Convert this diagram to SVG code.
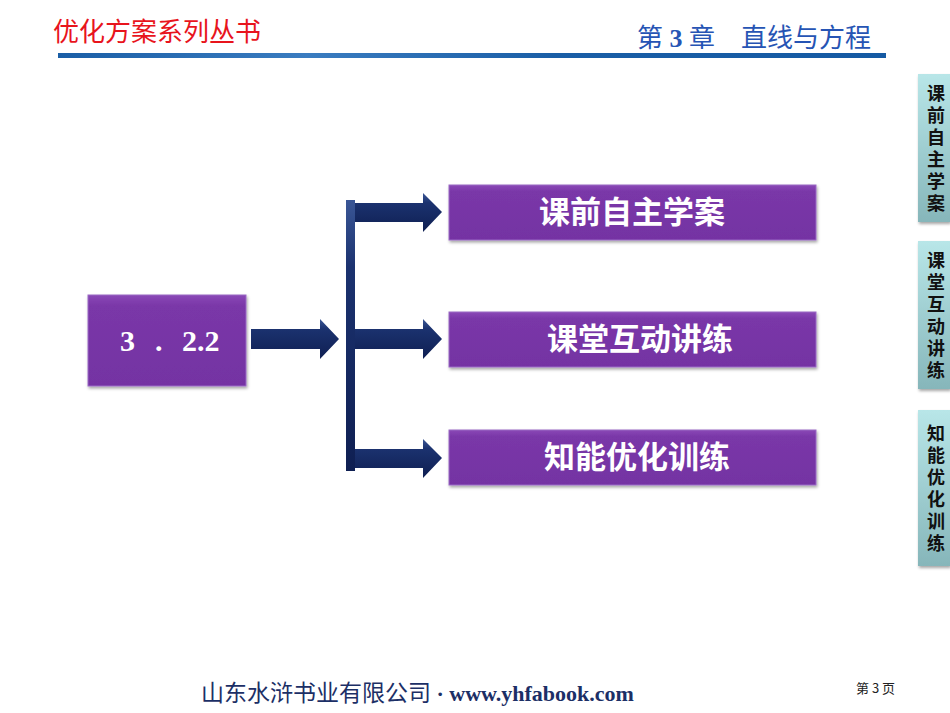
<svg xmlns="http://www.w3.org/2000/svg" width="950" height="713" viewBox="0 0 950 713">
<defs>
<linearGradient id="hdr" x1="0" y1="0" x2="1" y2="0">
<stop offset="0" stop-color="#1a5ea6"/><stop offset="0.3" stop-color="#3a7cc0"/><stop offset="0.6" stop-color="#1a5ea6"/><stop offset="1" stop-color="#155aa3"/>
</linearGradient>
<linearGradient id="tab" x1="0" y1="0" x2="0" y2="1">
<stop offset="0" stop-color="#b8e6e8"/><stop offset="1" stop-color="#86b6ba"/>
</linearGradient>
<linearGradient id="box" x1="0" y1="0" x2="0" y2="1">
<stop offset="0" stop-color="#8a48b6"/><stop offset="0.12" stop-color="#7a37a8"/><stop offset="1" stop-color="#7433a3"/>
</linearGradient>
<linearGradient id="arr" x1="0" y1="0" x2="0" y2="1">
<stop offset="0" stop-color="#3a5696"/><stop offset="0.25" stop-color="#1b326f"/><stop offset="1" stop-color="#0f1f52"/>
</linearGradient>
<filter id="sh" x="-5%" y="-10%" width="115%" height="130%">
<feDropShadow dx="1" dy="2" stdDeviation="1.5" flood-color="#000" flood-opacity="0.35"/>
</filter>
</defs>
<style>
.box{fill:url(#box);stroke:#9a6ac4;stroke-width:1;filter:url(#sh)}
.bt{font-family:"Noto Sans CJK SC","Noto Sans",sans-serif;font-weight:bold;font-size:31px;fill:#fff;text-anchor:middle}
.tab{fill:url(#tab);filter:url(#sh)}
.tt{font-family:"Noto Sans CJK SC",sans-serif;font-weight:bold;font-size:18px;fill:#111;writing-mode:vertical-rl;letter-spacing:4px}
.ar{fill:url(#arr)}
</style>
<rect width="950" height="713" fill="#fff"/>
<text x="53" y="41" font-family="'Noto Sans CJK SC',sans-serif" font-size="26" fill="#e8141c">优化方案系列丛书</text>
<text x="637" y="47" font-family="'Liberation Serif','Noto Sans CJK SC',serif" font-size="26" fill="#2654b4">第<tspan font-weight="bold"> 3 </tspan>章　直线与方程</text>
<rect x="58" y="53" width="828" height="5" fill="url(#hdr)"/>

<g id="tab1"><rect class="tab" x="918" y="74" width="32" height="148"/>
<text class="tt" x="936" y="84">课前自主学案</text></g>
<g id="tab2"><rect class="tab" x="918" y="241" width="32" height="148"/>
<text class="tt" x="936" y="251">课堂互动讲练</text></g>
<g id="tab3"><rect class="tab" x="918" y="410" width="32" height="156"/>
<text class="tt" x="936" y="424">知能优化训练</text></g>

<g id="node322"><rect class="box" x="88" y="295" width="158" height="91"/>
<g font-family="'Liberation Serif',serif" font-weight="bold" font-size="30" fill="#fff">
<text x="120" y="351">3</text><text x="155" y="351">.</text><text x="182" y="351">2.2</text></g></g>

<g id="connectors">
<path class="ar" d="M251 329H320V319L339 339L320 359V349H251Z"/>
<rect x="346" y="200" width="9" height="271" fill="url(#arr)"/>
<path class="ar" d="M355 203H423V193L442 212L423 232V222H355Z"/>
<path class="ar" d="M355 329H423V319L442 339L423 359V349H355Z"/>
<path class="ar" d="M355 449H423V439L442 458L423 478V468H355Z"/>
</g>

<g id="b1"><rect class="box" x="449" y="185" width="367" height="55"/><text class="bt" x="632" y="223">课前自主学案</text></g>
<g id="b2"><rect class="box" x="449" y="312" width="367" height="55"/><text class="bt" x="640" y="350">课堂互动讲练</text></g>
<g id="b3"><rect class="box" x="449" y="430" width="367" height="55"/><text class="bt" x="637" y="468">知能优化训练</text></g>

<text x="201" y="701" font-family="'Liberation Serif','Noto Sans CJK SC',serif" font-size="23" fill="#1c2f66">山东水浒书业有限公司<tspan font-size="22" font-weight="bold"> · www.yhfabook.com</tspan></text>
<text x="856" y="693" font-family="'Noto Sans CJK SC',sans-serif" font-size="13" fill="#222">第 3 页</text>
</svg>
